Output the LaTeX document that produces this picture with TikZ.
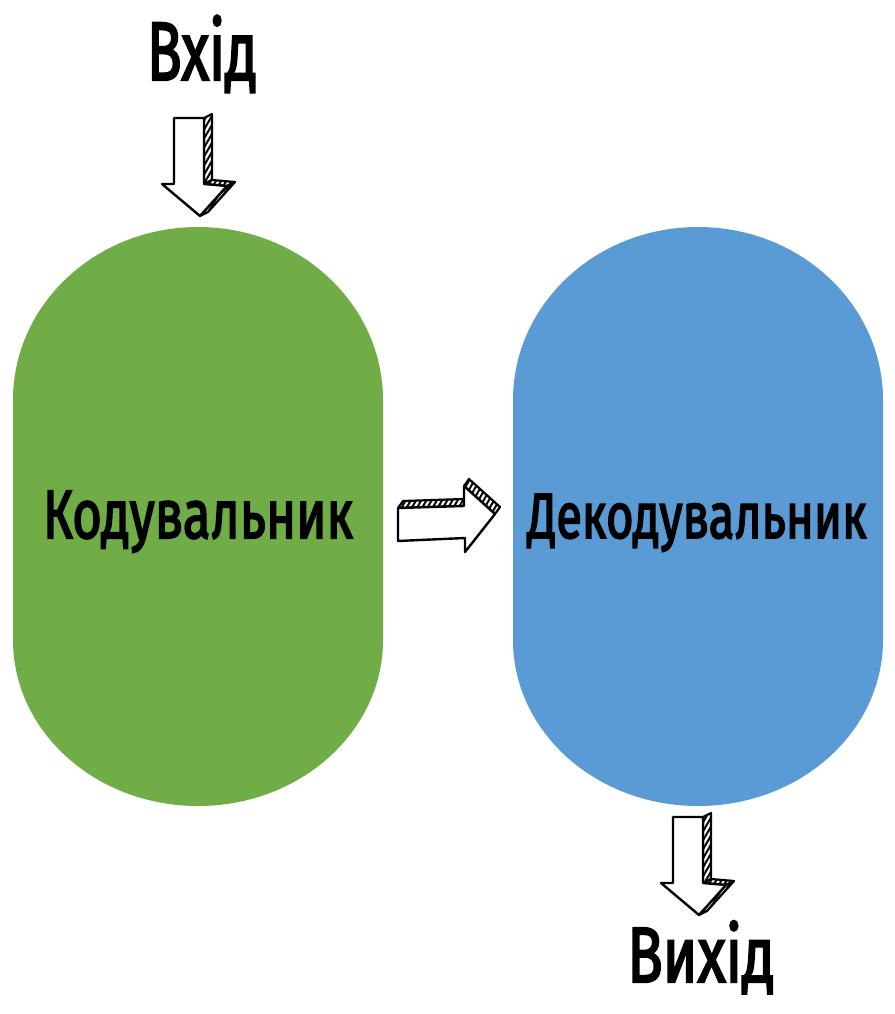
\documentclass[tikz,border=0pt]{standalone}
\usepackage{fontspec}
\newfontfamily\lblfont[FakeBold=3]{Fira Sans}
\usetikzlibrary{patterns.meta}
\definecolor{encgreen}{HTML}{70AD47}
\definecolor{decblue}{HTML}{5B9BD5}
\newcommand\fitlbl[3]{\resizebox{#1pt}{#2pt}{\lblfont\vphantom{В}\smash{#3}}}
\newcommand\myDownArrow[1]{%
  \begin{scope}[shift={#1}]
    % side faces
    \filldraw[sidefill] (30,0) -- (38,-4) -- (38,62) -- (30,66) -- cycle;
    \filldraw[sidefill] (30,66) -- (38,62) -- (61,64) -- (53,68) -- cycle;
    \filldraw[sidefill] (53,68) -- (61,64) -- (34,94) -- (26,98) -- cycle;
    % front face
    \filldraw[frontface] (0,0) -- (30,0) -- (30,66) -- (53,68) -- (26,98) -- (-12,66) -- (0,66) -- cycle;
  \end{scope}}
\newcommand\myRightArrow[1]{%
  \begin{scope}[shift={#1}]
    \filldraw[sidefill] (0,0) -- (5,-7) -- (66,-9) -- (66,-2) -- cycle;
    \filldraw[sidefill] (66,-22) -- (71,-29) -- (102,-1) -- (97,6) -- cycle;
    \filldraw[frontface] (0,0) -- (66,-2) -- (66,-22) -- (97,6) -- (67,44) -- (67,30) -- (0,33) -- cycle;
  \end{scope}}
\begin{document}
\begin{tikzpicture}[x=1pt,y=-1pt,
  sidefill/.style={draw=black,line width=2.2pt,line join=round,
    pattern={Lines[angle=60,distance=4.5pt,line width=2pt]},pattern color=black},
  frontface/.style={draw=black,fill=white,line width=2.4pt,line join=round},
  lbl/.style={anchor=base,inner sep=0pt,text=black}]
\useasboundingbox (0,0) rectangle (894,1014);
\fill[white] (0,0) rectangle (894,1014);
% encoder
\fill[encgreen] (13,400) arc[start angle=180,end angle=360,x radius=185,y radius=173]
  -- (383,640) arc[start angle=0,end angle=180,x radius=185,y radius=166] -- cycle;
% decoder
\fill[decblue] (513,400) arc[start angle=180,end angle=360,x radius=185,y radius=173]
  -- (883,640) arc[start angle=0,end angle=180,x radius=185,y radius=166] -- cycle;
\node[lbl] (enclbl) at (198,538) {\fitlbl{310}{47}{Кодувальник}};
\node[lbl] (declbl) at (697,538) {\fitlbl{339}{44}{Декодувальник}};
\node[lbl] (inlbl) at (202,80) {\fitlbl{110}{57}{Вхід}};
\node[lbl] (outlbl) at (701,982) {\fitlbl{147}{54}{Вихід}};
\myDownArrow{(174,118)}
\myRightArrow{(398,508)}
\myDownArrow{(673,817)}
\end{tikzpicture}
\end{document}
